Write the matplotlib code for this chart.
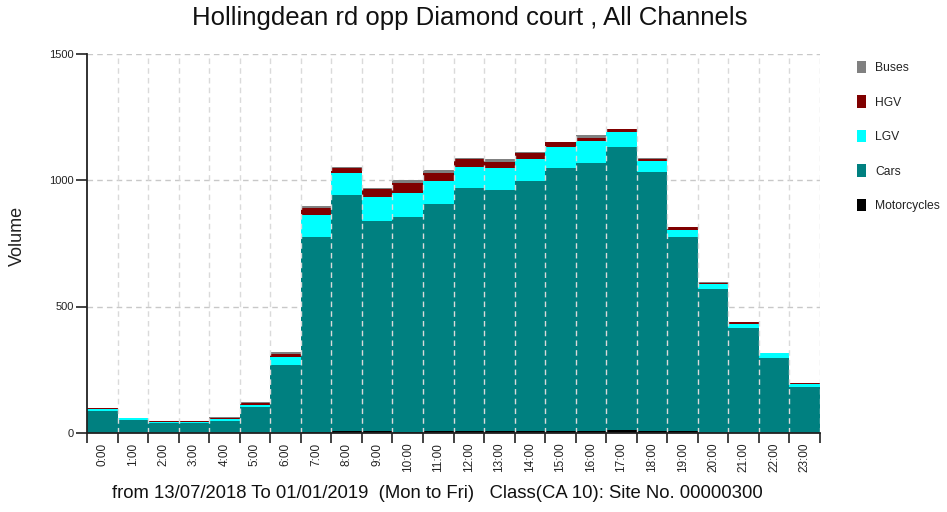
import matplotlib
matplotlib.use("Agg")
import matplotlib.pyplot as plt
import numpy as np

plt.rcParams['font.family'] = ['Liberation Sans', 'DejaVu Sans']

hours = ["0:00", "1:00", "2:00", "3:00", "4:00", "5:00", "6:00", "7:00", "8:00", "9:00",
         "10:00", "11:00", "12:00", "13:00", "14:00", "15:00", "16:00", "17:00", "18:00",
         "19:00", "20:00", "21:00", "22:00", "23:00"]

motorcycles = [0, 0, 0, 0, 0, 0, 1, 2, 7, 8, 2, 7, 7, 6, 6, 6, 7, 12, 7, 6, 1, 1, 0, 0]
cars = [87, 51, 38, 38, 47, 103, 268, 773, 933, 831, 851, 897, 960, 955, 991, 1040, 1061, 1120, 1026, 768, 567, 415, 295, 181]
lgv = [9, 7, 7, 7, 8, 8, 30, 87, 87, 95, 95, 93, 86, 85, 86, 86, 86, 58, 42, 28, 20, 16, 20, 14]
hgv = [1, 1, 1, 1, 5, 9, 13, 28, 22, 29, 40, 32, 31, 24, 24, 17, 11, 10, 9, 11, 6, 6, 1, 1]
buses = [3, 1, 1, 0, 2, 4, 7, 8, 2, 4, 13, 11, 4, 12, 3, 3, 12, 3, 3, 2, 2, 2, 1, 0]

series = [("Motorcycles", motorcycles, "#000000"),
          ("Cars", cars, "#008080"),
          ("LGV", lgv, "#00FFFF"),
          ("HGV", hgv, "#800000"),
          ("Buses", buses, "#808080")]

fig = plt.figure(figsize=(9.47, 5.12), dpi=100)
ax = fig.add_axes([87 / 947, 1 - 433 / 512, (820 - 87) / 947, (433 - 53.5) / 512])

x = np.arange(len(hours))
bottom = np.zeros(len(hours))
handles = {}
for name, vals, col in series:
    v = np.array(vals, dtype=float)
    b = ax.bar(x, v, width=1.0, bottom=bottom, color=col, edgecolor='none', zorder=2, label=name)
    handles[name] = b
    bottom += v

ax.set_xlim(-0.5, len(hours) - 0.5)
ax.set_ylim(0, 1500)

# horizontal grid behind bars
for yv in [500, 1000, 1500]:
    ax.axhline(yv, color='#c8c8c8', lw=1.0, ls=(0, (4, 3)), zorder=1)
# vertical grid at bar boundaries, on top of bars
for xb in np.arange(-0.5, len(hours) + 0.5, 1.0)[1:]:
    ax.axvline(xb, color='#dadada', lw=1.0, ls=(0, (4, 3)), zorder=3)

ax.set_yticks([0, 500, 1000, 1500])
ax.set_yticklabels(["0", "500", "1000", "1500"], fontsize=8, color='#222222')
ax.tick_params(axis='y', length=8, width=1.2, pad=1.5, color='#222222')

ax.set_xticks(np.arange(-0.5, len(hours), 1.0), minor=False)
ax.set_xticklabels([])
ax.set_xticks(x, minor=True)
ax.set_xticklabels(hours, minor=True, rotation=90, fontsize=8.5, color='#222222')
ax.tick_params(axis='x', which='major', length=7, width=1.2, color='#222222')
ax.tick_params(axis='x', which='minor', length=0, pad=7)

for s in ['top', 'right']:
    ax.spines[s].set_visible(False)
for s in ['left', 'bottom']:
    ax.spines[s].set_linewidth(1.3)
    ax.spines[s].set_color('#222222')
    ax.spines[s].set_zorder(4)

ax.set_ylabel("Volume", fontsize=13, color='#222222')
ax.yaxis.set_label_coords((26 - 87) / 733, (433 - 236) / 379.5)

fig.text(470 / 947, 1 - 18 / 512, "Hollingdean rd opp Diamond court , All Channels",
         ha='center', va='center', fontsize=18.5, color='#111111')
fig.text(437 / 947, 1 - 494 / 512,
         "from 13/07/2018 To 01/01/2019  (Mon to Fri)   Class(CA 10): Site No. 00000300",
         ha='center', va='center', fontsize=13.3, color='#111111')

order = ["Buses", "HGV", "LGV", "Cars", "Motorcycles"]
leg = fig.legend([handles[n] for n in order], order, loc='upper left',
                 bbox_to_anchor=(857 / 947, 1 - 61 / 512), frameon=False,
                 fontsize=8.7, handlelength=0.75, handleheight=1.2, labelspacing=1.75,
                 handletextpad=0.75, borderpad=0, borderaxespad=0)
for t in leg.get_texts():
    t.set_color('#222222')

fig.savefig("out.png", dpi=100)
